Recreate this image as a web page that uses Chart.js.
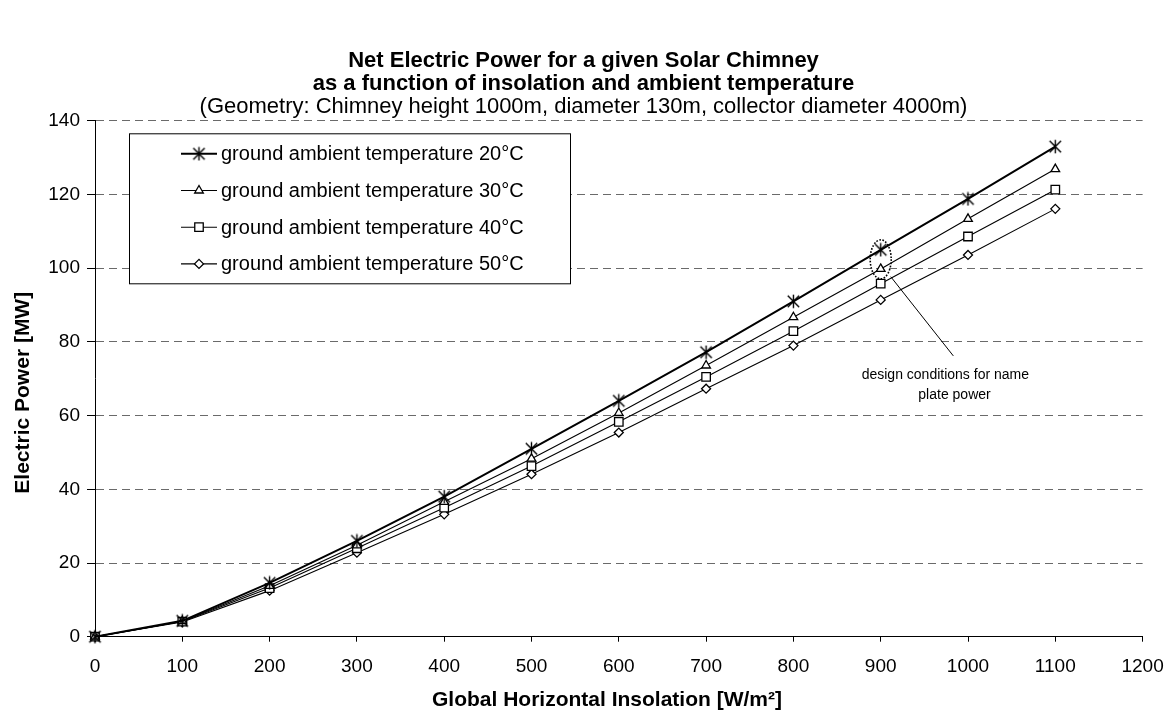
<!DOCTYPE html>
<html>
<head>
<meta charset="utf-8">
<script src="https://cdn.jsdelivr.net/npm/chart.js@4.4.1/dist/chart.umd.min.js"></script>
<style>
  html, body { margin: 0; padding: 0; background: #fff; }
  #wrap { width: 1166px; height: 713px; }
</style>
</head>
<body>
<div id="wrap"><canvas id="c" width="1166" height="713"></canvas></div>
<script>
// ---- data ----
const insolation = [0, 100, 200, 300, 400, 500, 600, 700, 800, 900, 1000, 1100];
const power20 = [0, 4.3, 14.6, 26.0, 38.0, 51.0, 64.0, 77.2, 91.0, 105.0, 118.8, 133.0];
const power30 = [0, 4.2, 13.8, 24.8, 36.6, 48.3, 60.7, 73.6, 86.7, 99.8, 113.4, 126.9];
const power40 = [0, 4.1, 13.2, 24.0, 35.0, 46.3, 58.3, 70.5, 82.9, 95.8, 108.6, 121.3];
const power50 = [0, 4.0, 12.5, 22.8, 33.2, 44.1, 55.4, 67.3, 79.0, 91.4, 103.6, 116.1];
const seriesLabels = [
  'ground ambient temperature 20°C',
  'ground ambient temperature 30°C',
  'ground ambient temperature 40°C',
  'ground ambient temperature 50°C'
];
const titleLines = ['Net Electric Power for a given Solar Chimney', 'as a function of insolation and ambient temperature'];
const subtitleText = '(Geometry: Chimney height 1000m, diameter 130m, collector diameter 4000m)';
const xTitle = 'Global Horizontal Insolation [W/m²]';
const yTitle = 'Electric Power [MW]';
const noteLines = ['design conditions for name', 'plate power'];

const FONT = "'Liberation Sans', Arial, Helvetica, sans-serif";

// asterisk marker (X + vertical bar), like the spreadsheet "star" marker
function makeStar() {
  const c = document.createElement('canvas');
  c.width = 15; c.height = 15;
  const g = c.getContext('2d');
  g.strokeStyle = '#000';
  g.lineWidth = 1.4;
  g.beginPath();
  g.moveTo(1.8, 1.8); g.lineTo(13.2, 13.2);
  g.moveTo(13.2, 1.8); g.lineTo(1.8, 13.2);
  g.moveTo(7.5, 0.8); g.lineTo(7.5, 14.2);
  g.stroke();
  return c;
}
const starImg = makeStar();

function pts(ys) { return insolation.map((x, i) => ({ x: x, y: ys[i] })); }

const styles = [
  { pointStyle: starImg, radius: 7, width: 2 },
  { pointStyle: 'triangle', radius: 5, width: 1.1 },
  { pointStyle: 'rect', radius: 6, width: 1.1 },
  { pointStyle: 'rectRot', radius: 4.5, width: 1.1 }
];
const allSeries = [power20, power30, power40, power50];

const datasets = allSeries.map((ys, i) => ({
  label: seriesLabels[i],
  data: pts(ys),
  borderColor: '#000',
  backgroundColor: '#fff',
  borderWidth: styles[i].width,
  pointStyle: styles[i].pointStyle,
  pointRadius: styles[i].radius,
  pointHoverRadius: styles[i].radius,
  pointBackgroundColor: '#fff',
  pointBorderColor: '#000',
  pointBorderWidth: 1.3,
  tension: 0,
  clip: false
}));

// legend box drawn inside the plot area
const boxLegend = {
  id: 'boxLegend',
  afterDatasetsDraw(chart) {
    const ctx = chart.ctx;
    const a = chart.chartArea;
    const x0 = a.left + 34, y0 = a.top + 12.5, w = 441, h = 150;
    ctx.save();
    ctx.fillStyle = '#fff';
    ctx.fillRect(x0, y0, w, h);
    ctx.strokeStyle = '#000';
    ctx.lineWidth = 1;
    ctx.strokeRect(x0 + 0.5, y0 + 0.5, w, h);
    chart.data.datasets.forEach((ds, i) => {
      const cy = y0 + 20.5 + i * 36.7;
      ctx.strokeStyle = '#000';
      ctx.lineWidth = ds.borderWidth;
      ctx.beginPath();
      ctx.moveTo(x0 + 52, cy);
      ctx.lineTo(x0 + 88, cy);
      ctx.stroke();
      ctx.fillStyle = '#fff';
      ctx.lineWidth = ds.pointBorderWidth;
      Chart.helpers.drawPoint(ctx, {
        pointStyle: ds.pointStyle, radius: ds.pointRadius, rotation: 0, borderWidth: ds.pointBorderWidth
      }, x0 + 70, cy);
      ctx.fillStyle = '#000';
      ctx.font = '20px ' + FONT;
      ctx.textAlign = 'left';
      ctx.textBaseline = 'middle';
      ctx.fillText(ds.label, x0 + 92, cy + 1);
    });
    ctx.restore();
  }
};

// callout: dotted ellipse around the design point, leader line and note
const callout = {
  id: 'callout',
  afterDatasetsDraw(chart) {
    const ctx = chart.ctx;
    const xs = chart.scales.x, ys = chart.scales.y;
    const cx = xs.getPixelForValue(900), cy = ys.getPixelForValue(102.4);
    ctx.save();
    ctx.strokeStyle = '#000';
    ctx.lineWidth = 1.6;
    ctx.setLineDash([1.6, 1.6]);
    ctx.beginPath();
    ctx.ellipse(cx, cy, 10.5, 19.5, 0, 0, Math.PI * 2);
    ctx.stroke();
    ctx.setLineDash([]);
    ctx.lineWidth = 1;
    ctx.beginPath();
    ctx.moveTo(xs.getPixelForValue(911.5), ys.getPixelForValue(97.7));
    ctx.lineTo(xs.getPixelForValue(983.2), ys.getPixelForValue(76.2));
    ctx.stroke();
    ctx.fillStyle = '#000';
    ctx.font = '14px ' + FONT;
    ctx.textAlign = 'left';
    ctx.textBaseline = 'middle';
    ctx.fillText(noteLines[0], xs.getPixelForValue(878.2), ys.getPixelForValue(71.0));
    ctx.fillText(noteLines[1], xs.getPixelForValue(943.1), ys.getPixelForValue(65.6));
    ctx.restore();
  }
};

// axis titles (placed where the reference has them)
const axisTitles = {
  id: 'axisTitles',
  afterDraw(chart) {
    const ctx = chart.ctx;
    const a = chart.chartArea;
    ctx.save();
    ctx.fillStyle = '#000';
    ctx.font = 'bold 21px ' + FONT;
    ctx.textAlign = 'center';
    ctx.textBaseline = 'middle';
    ctx.fillText(xTitle, a.left + 512, 700);
    ctx.translate(23, (a.top + a.bottom) / 2 + 14);
    ctx.rotate(-Math.PI / 2);
    ctx.fillText(yTitle, 0, 0);
    ctx.restore();
  }
};

const bg = {
  id: 'bg',
  beforeDraw(chart) {
    const ctx = chart.ctx;
    ctx.save();
    ctx.fillStyle = '#fff';
    ctx.fillRect(0, 0, chart.width, chart.height);
    ctx.restore();
  }
};

new Chart(document.getElementById('c'), {
  type: 'line',
  data: { datasets: datasets },
  plugins: [bg, boxLegend, callout, axisTitles],
  options: {
    responsive: false,
    animation: false,
    events: [],
    layout: { padding: { left: 12.2, right: 11.2, top: 0, bottom: 0 } },
    plugins: {
      legend: { display: false },
      tooltip: { enabled: false },
      title: {
        display: true,
        text: titleLines,
        color: '#000',
        font: { family: FONT, size: 22, weight: 'bold', lineHeight: 1.05 },
        padding: { top: 49.5, bottom: 0 }
      },
      subtitle: {
        display: true,
        text: subtitleText,
        color: '#000',
        font: { family: FONT, size: 22, weight: 'normal', lineHeight: 1.05 },
        padding: { top: 0, bottom: 2 }
      }
    },
    scales: {
      x: {
        type: 'linear',
        min: 0,
        max: 1200,
        afterFit(scale) { scale.height = 76.3; scale.paddingRight = 23.4; },
        ticks: { stepSize: 100, color: '#000', padding: 14, maxRotation: 0,
                 callback: (v) => String(v),
                 font: { family: FONT, size: 19 } },
        grid: { drawOnChartArea: false, drawTicks: true, tickLength: 5, tickColor: '#000' },
        border: { display: true, color: '#000', width: 1 },
        title: { display: false, text: xTitle }
      },
      y: {
        type: 'linear',
        min: 0,
        max: 140,
        afterFit(scale) { scale.width = 82.8; },
        ticks: { stepSize: 20, color: '#000', padding: 7,
                 callback: (v) => String(v),
                 font: { family: FONT, size: 19 } },
        grid: {
          color: (c) => (c.tick && c.tick.value === 0) ? 'rgba(0,0,0,0)' : '#6a6a6a',
          lineWidth: 1,
          tickLength: 8,
          tickColor: '#000',
          tickBorderDash: []
        },
        border: { display: true, color: '#000', width: 1, dash: [8, 5] },
        title: { display: false, text: yTitle }
      }
    }
  }
});
</script>
</body>
</html>
